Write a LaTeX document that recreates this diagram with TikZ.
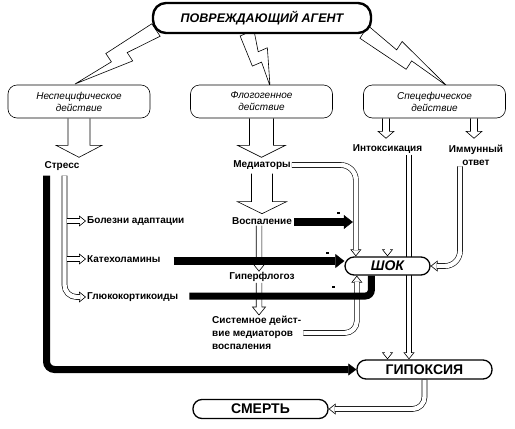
\documentclass[tikz,border=0pt]{standalone}
\usepackage{fontspec}
\setmainfont{Liberation Sans}
\usetikzlibrary{arrows.meta,calc}
\pgfdeclarelayer{bg}
\pgfsetlayers{bg,main}
\tikzset{
 topbox/.style={draw, line width=2.4pt, rounded corners=13pt, minimum width=218pt, minimum height=30pt, fill=white, inner sep=0pt, font=\bfseries\itshape\fontsize{12.5}{14}\selectfont},
 actbox/.style={draw, line width=0.6pt, rounded corners=9pt, minimum width=142pt, minimum height=33pt, fill=white, align=center, inner sep=0pt, font=\itshape\fontsize{10}{12}\selectfont},
 lbl/.style={inner sep=1pt, font=\bfseries\fontsize{10}{13}\selectfont},
 pill/.style={draw, line width=1.3pt, rounded corners=9pt, fill=white, inner sep=0pt, font=\bfseries\fontsize{14}{16}\selectfont},
 boltst/.style={draw, line width=0.6pt, fill=white, line join=miter},
 blockarr/.style={draw, line width=0.6pt, fill=white, line join=miter},
 hol/.style={draw=black, double=white, line width=0.6pt, double distance=4.4pt, rounded corners=12pt},
 htip/.style={draw=black, line width=0.6pt, -{Triangle[fill=white, width=11pt, length=7pt]}},
 blk/.style={line width=8pt, -{Triangle[width=14pt, length=9pt, line width=0.4pt]}},
 blkline/.style={line width=7pt, rounded corners=8pt},
}
\newcommand{\zbolt}[2]{%
 \draw[boltst] ($(#1)!-7.5pt!90:(#2)$) -- ($(#1)!7.5pt!90:(#2)$) -- ($(#1)!0.375!(#2)!2.8pt!90:(#2)$) -- ($(#1)!0.375!(#2)!12.8pt!90:(#2)$) -- (#2) -- ($(#1)!0.5625!(#2)!1.75pt!90:(#2)$) -- ($(#1)!0.5625!(#2)!-8.25pt!90:(#2)$) -- cycle;}
\begin{document}
\begin{tikzpicture}[x=1pt,y=-1pt]
\useasboundingbox (0,0) rectangle (515,429);

\node[topbox] (agent) at (262,18) {ПОВРЕЖДАЮЩИЙ АГЕНТ};
\node[actbox] (nonspec) at (79,101.5) {Неспецифическое\\действие};
\node[actbox] (phlog) at (261.5,101.5) {Флогогенное\\действие};
\node[actbox] (spec) at (434.5,101.5) {Спецефическое\\действие};

\node[lbl] (stress) at (62,166) {Стресс};
\node[lbl, anchor=west] (bolezni) at (86,221) {Болезни адаптации};
\node[lbl, anchor=west] (katex) at (86,259) {Катехоламины};
\node[lbl, anchor=west] (gluko) at (86,297) {Глюкокортикоиды};
\node[lbl] (mediat) at (262,165) {Медиаторы};
\node[lbl] (vospal) at (262,221) {Воспаление};
\node[lbl] (giper) at (262,277) {Гиперфлогоз};
\node[lbl, anchor=north west, align=left] (sistem) at (211,315) {Системное дейст-\\вие медиаторов\\воспаления};
\node[lbl] (intox) at (387.5,149) {Интоксикация};
\node[lbl, align=center] (immun) at (476,155) {Иммунный\\ответ};
\node[pill, font=\bfseries\itshape\fontsize{14}{16}\selectfont, minimum width=85pt, minimum height=18pt] (shock) at (387.5,266) {ШОК};
\node[pill, minimum width=135pt, minimum height=19pt] (hypox) at (424.5,369.5) {ГИПОКСИЯ};
\node[pill, minimum width=135pt, minimum height=19pt] (death) at (260.5,409) {СМЕРТЬ};

\coordinate (medin) at ($(shock.north west)+(11.5,0)$);
\coordinate (shin) at ($(shock.south west)+(12.5,0)$);
\coordinate (glin) at ($(shock.south west)+(27,0)$);
\coordinate (hy1) at ($(hypox.north)+(-37,0)$);
\coordinate (hy2) at ($(hypox.north)+(-15.5,0)$);
\coordinate (gpin) at ($(giper.north)+(-3,0)$);
\coordinate (gpout) at ($(giper.south)+(-3,0)$);
\coordinate (vsout) at (vospal.south -| gpin);
\coordinate (sysin) at (gpout |- sistem.north);
\coordinate (b1s) at (156,30);
\coordinate (b1e) at (75,84);
\coordinate (b2s) at (247,33);
\coordinate (b2e) at (270,86);
\coordinate (b3s) at (364,32);
\coordinate (b3e) at (447,86);

\begin{pgfonlayer}{bg}
\fill[white] (0,0) rectangle (515,429);
% lightning bolts
\zbolt{b1s}{b1e}
\zbolt{b2s}{b2e}
\zbolt{b3s}{b3e}
% block arrows
\draw[blockarr] ([xshift=-11pt]nonspec.south) -- ++(0,27) -- ++(-12,0) -- ++(23,12) -- ++(23,-12) -- ++(-12,0) -- ++(0,-27);
\draw[blockarr] ([xshift=-12pt]phlog.south) -- ++(0,27) -- ++(-12,0) -- ++(24,12) -- ++(24,-12) -- ++(-12,0) -- ++(0,-27);
\draw[blockarr] ([xshift=-52pt]spec.south) -- ++(0,13) -- ++(-4.5,0) -- ++(8,7) -- ++(8,-7) -- ++(-4.5,0) -- ++(0,-13);
\draw[blockarr] ([xshift=36pt]spec.south) -- ++(0,13) -- ++(-4.5,0) -- ++(8,7) -- ++(8,-7) -- ++(-4.5,0) -- ++(0,-13);
\draw[blockarr] ($(mediat.south)+(-10.5,3)$) -- ++(0,28) -- ++(-14,0) -- ++(24.5,12) -- ++(24.5,-12) -- ++(-14,0) -- ++(0,-28);
% narrow hollow arrows (inflammation chain)
\draw[blockarr] ($(vsout)+(-2.8,0)$) -- ($(gpin)+(-2.8,-8)$) -- ($(gpin)+(-6.5,-8)$) -- (gpin) -- ($(gpin)+(6.5,-8)$) -- ($(gpin)+(2.8,-8)$) -- ($(vsout)+(2.8,0)$);
\draw[blockarr] ($(gpout)+(-2.8,0)$) -- ($(sysin)+(-2.8,-8)$) -- ($(sysin)+(-6.5,-8)$) -- (sysin) -- ($(sysin)+(6.5,-8)$) -- ($(sysin)+(2.8,-8)$) -- ($(gpout)+(2.8,0)$);
% hollow arrow tips
\draw[htip] ($(gluko.west)+(-8,0)$) -- (gluko.west);
\draw[htip] ($(bolezni.west)+(-8,0)$) -- (bolezni.west);
\draw[htip] ($(katex.west)+(-8,0)$) -- (katex.west);
\draw[htip] ($(medin)+(0,-8)$) -- (medin);
\draw[htip] ($(shock.north)+(0,-8)$) -- (shock.north);
\draw[htip] ($(hy2)+(0,-8)$) -- (hy2);
\draw[htip] ($(hy1)+(0,-8)$) -- (hy1);
\draw[htip] ($(shock.east)+(8,0)$) -- (shock.east);
\draw[htip] ($(shin)+(0,8)$) -- (shin);
\draw[htip] ($(death.east)+(8,0)$) -- (death.east);
% hollow lines
\draw[hol] ($(stress.south)+(2.5,4)$) |- ($(gluko.west)+(-6,0)$);
\draw[hol] ($(bolezni.west)+(-19.4,0)$) -- ($(bolezni.west)+(-6,0)$);
\draw[hol] ($(katex.west)+(-19.4,0)$) -- ($(katex.west)+(-6,0)$);
\draw[hol, rounded corners=15pt] (mediat.east) -| ($(medin)+(0,-6)$);
\draw[hol] (intox.south) -- ($(shock.north)+(0,-6)$);
\draw[hol] ($(intox.south)+(21.5,0)$) -- ($(hy2)+(0,-6)$);
\draw[hol] (shock.south) -- ($(hy1)+(0,-6)$);
\draw[hol, rounded corners=15pt] ($(immun.south)+(-16,0)$) |- ($(shock.east)+(6,0)$);
\draw[hol] ($(sistem.east)+(1,0)$) -| ($(shin)+(0,6)$);
\draw[hol] (hypox.south) |- ($(death.east)+(6,0)$);
% black connectors
\draw[blkline, -{Triangle[width=12pt, length=8pt, line width=0.4pt]}] ($(stress.south)+(-15.5,4)$) |- (hypox.west);
\draw[blk] ($(katex.east)+(12,2)$) -- ($(shock.west)+(0,-5)$);
\draw[blk] ($(vospal.east)+(1,1)$) -- ($(medin |- vospal.east)+(-3,1)$);
\draw[line width=7pt, rounded corners=6pt] ($(gluko.east)+(10,-1)$) -| (glin);
% small marks
\fill (336.5,212) rectangle ++(3,2);
\fill (325.5,252) rectangle ++(3,2);
\fill (331.5,286) rectangle ++(3,2);
\end{pgfonlayer}
\end{tikzpicture}
\end{document}
